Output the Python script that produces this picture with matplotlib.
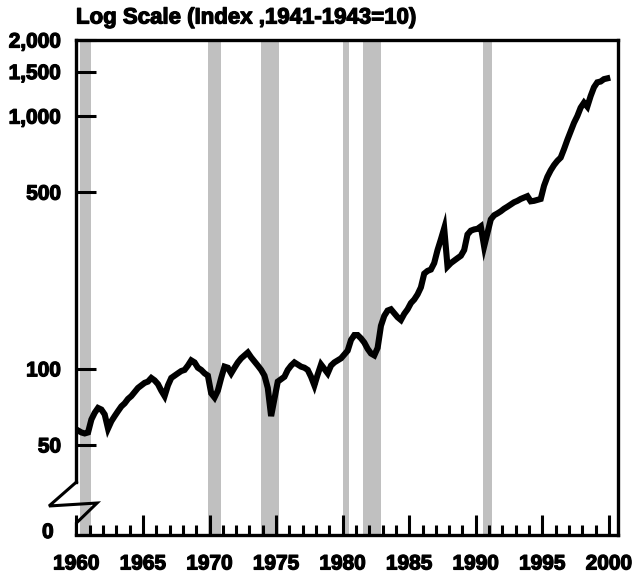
import numpy as np
import matplotlib
matplotlib.use('Agg')
import matplotlib.pyplot as plt
import matplotlib.patheffects as pe
from matplotlib.ticker import NullLocator

plt.rcParams['font.family'] = ['Liberation Sans', 'DejaVu Sans']
plt.rcParams['font.weight'] = 'bold'

# квартальные значения индекса (1960 Q1 ... 1999 Q4)
years = list(range(1960, 2000))
index_q = [
    57, 56, 55.5, 56,        # 1960
    63, 67, 70, 69,          # 1961
    66, 58, 62, 65,          # 1962
    68, 71, 73, 76,          # 1963
    78, 81, 84, 86,          # 1964
    88, 89, 92, 90,          # 1965
    87, 82, 78, 86,          # 1966
    92, 94, 96, 98,          # 1967
    99, 103, 108, 106,       # 1968
    101, 99, 96, 94,         # 1969
    80, 77, 82, 92,          # 1970
    102, 101, 96, 101,       # 1971
    106, 110, 113, 116,      # 1972
    111, 107, 103, 99,       # 1973
    94, 84, 65, 76,          # 1974
    89, 91, 93, 99,          # 1975
    103, 106, 104, 102,      # 1976
    101, 99, 93, 86,         # 1977
    95, 104, 100, 96,        # 1978
    103, 106, 108, 110,      # 1979
    114, 118, 130, 136,      # 1980
    136, 132, 127, 120,      # 1981
    115, 113, 121, 148,      # 1982
    162, 170, 172, 166,      # 1983
    160, 156, 165, 172,      # 1984
    182, 188, 197, 210,      # 1985
    238, 244, 247, 262,      # 1986
    295, 325, 360, 254,      # 1987
    262, 268, 274, 280,      # 1988
    295, 340, 352, 356,      # 1989
    358, 366, 305, 345,      # 1990
    390, 405, 412, 420,      # 1991
    430, 438, 447, 456,      # 1992
    462, 470, 476, 482,      # 1993
    460, 462, 466, 470,      # 1994
    530, 575, 610, 640,      # 1995
    665, 685, 740, 805,      # 1996
    870, 940, 1000, 1080,    # 1997
    1130, 1090, 1200, 1300,  # 1998
    1360, 1370, 1400, 1410,  # 1999
]

# периоды рецессий (начало, конец)
recessions = [(1960.25, 1961.1), (1969.85, 1970.85), (1973.85, 1975.2),
              (1980.0, 1980.5), (1981.55, 1982.9), (1990.55, 1991.2)]

y_ticks = [50, 100, 500, 1000, 1500, 2000]
y_labels = ['50', '100', '500', '1,000', '1,500', '2,000']
x_ticks = list(range(1960, 2001, 5))

# время: середина каждого квартала
t = []
for y in years:
    for q in range(4):
        t.append(y + (q + 0.5) / 4)

# жирнее текст, как в оригинале
heavy = [pe.withStroke(linewidth=0.9, foreground='black')]
fs = 15

fig = plt.figure(figsize=(6.37, 5.83), dpi=100)
ax = fig.add_axes([76.4 / 637, 1 - 535 / 583, (618 - 76.4) / 637, (535 - 40) / 583])

for a, b in recessions:
    ax.axvspan(a, b, color='#c0c0c0', lw=0, zorder=0)

ax.plot(t, index_q, color='black', lw=4.4, solid_joinstyle='miter', zorder=3)

ax.set_yscale('log')
ax.set_ylim(22, 2000)
ax.set_xlim(1960, 2000.68)

ax.set_yticks(y_ticks)
ax.set_yticklabels(y_labels)
ax.yaxis.set_minor_locator(NullLocator())
ax.set_xticks(x_ticks)
ax.set_xticks(range(1961, 2000), minor=True)

ax.tick_params(axis='y', direction='in', length=14.5, width=2.2, labelsize=fs, pad=11)
ax.tick_params(axis='x', which='major', direction='in', length=14.5, width=2.2,
               labelsize=fs, pad=14)
ax.tick_params(axis='x', which='minor', direction='in', length=7.5, width=2.2)
ax.tick_params(axis='y', which='minor', length=0)

for lab in ax.get_xticklabels() + ax.get_yticklabels():
    lab.set_path_effects(heavy)

for s in ax.spines.values():
    s.set_linewidth(2.4)
# левая ось прерывается внизу
ax.spines['left'].set_bounds(35.7, 2000)

brk_x = [0, -0.0505, 0.0381, 0, 0]
brk_y = [0.107, 0.0586, 0.0646, 0.0242, 0]
ax.plot(brk_x, brk_y, color='black', lw=2.2, transform=ax.transAxes,
        clip_on=False, solid_joinstyle='miter', zorder=5)

ax.text(-0.042, 0.005, '0', transform=ax.transAxes, ha='right', va='center',
        fontsize=fs, fontweight='bold', path_effects=heavy)

fig.text(76 / 637, 1 - 18 / 583, 'Log Scale (Index ,1941-1943=10)',
         ha='left', va='center', fontsize=16, fontweight='bold', path_effects=heavy)

fig.savefig('out.png', dpi=100)
